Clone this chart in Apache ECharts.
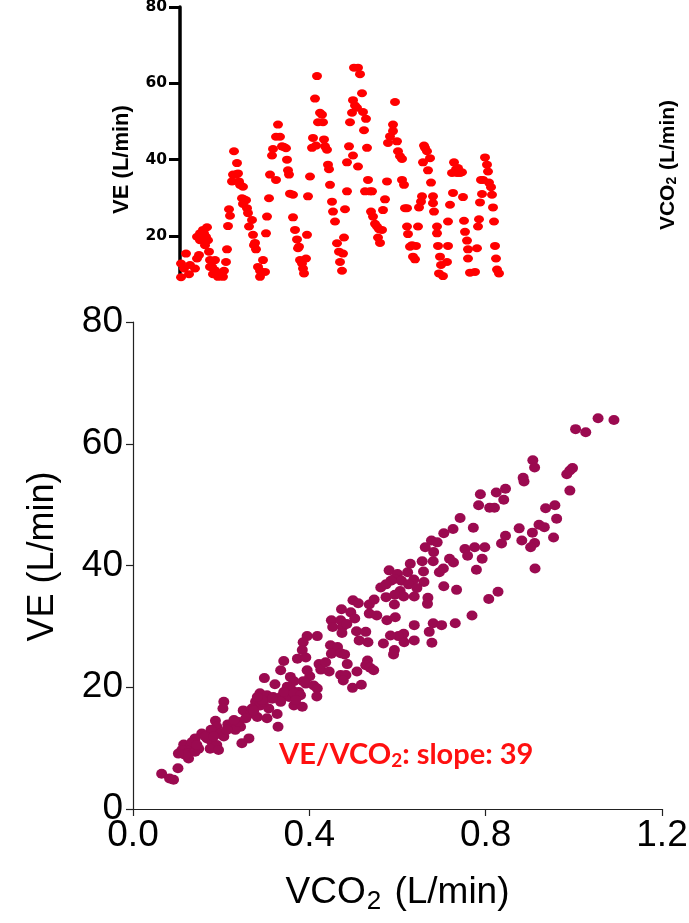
<!DOCTYPE html>
<html>
<head>
<meta charset="utf-8">
<script src="https://cdn.jsdelivr.net/npm/echarts@6.0.0/dist/echarts.min.js"></script>
<style>
  html, body { margin: 0; padding: 0; background: #fff; }
  #main { width: 689px; height: 923px; }
</style>
</head>
<body>
<div id="main"></div>
<script>
// top panel: VE over time (time, arbitrary units)
const timeT = [1,6,4,9,1,15,17,19,10,
  17,20,23,27,26,28,25,29,20,24,30,35,32,35,30,33,38,
  40,44,43,46,47,48,49,50,52,54,53,56,58,57,59,60,63,62,64,66,63,67,68,69,72,73,75,76,74,
  78,80,83,85,80,86,87,89,90,92,93,96,98,100,102,104,96,106,107,108,109,110,113,
  113,115,117,118,119,120,122,123,124,126,127,128,130,132,133,135,137,140,142,143,138,136,144,145,147,148,149,150,152,153,155,157,159,160,162,163,164,165,167,
  167,169,170,172,173,173,175,177,174,178,180,178,182,183,184,186,187,188,185,190,192,191,193,195,197,199,202,198,200,
  203,205,207,208,210,213,213,215,217,218,220,222,222,224,225,227,227,228,230,232,233,235,236,238,239,241,242,243,244,245,247,248,250,251,253,253,254,257,257,258,260,261,259,263,
  267,268,268,270,273,272,274,276,277,278,280,282,283,284,285,287,288,288,
  290,295,297,298,299,300,302,301,303,305,307,308,309,311,312,313,314,315,316,317,319];
const veTime = [12.8,15.4,11.5,10.0,9.2,11.5,14.1,15.0,12.4,
  19.8,20.7,21.6,22.3,19.8,18.9,17.6,15.9,18.9,20.7,13.7,13.7,11.9,11.0,11.9,10.0,9.3,
  10.2,10.9,9.3,13.2,16.5,22.6,27.0,25.3,34.3,42.2,36.1,36.1,36.4,39.1,34.3,33.4,32.9,29.9,29.6,29.4,28.4,27.3,26.0,22.5,24.2,20.3,18.2,16.5,17.6,
  11.9,10.9,13.7,10.6,9.3,20.7,25.1,29.9,36.1,41.1,42.8,46.0,49.2,46.0,43.5,43.3,34.7,43.0,40.0,37.2,36.1,31.1,30.8,
  24.9,21.6,19.1,16.8,17.2,13.7,12.8,11.5,10.2,14.1,20.3,30.4,35.6,43.1,45.7,56.0,61.9,52.3,51.8,49.8,49.8,43.7,45.3,43.5,42.6,38.7,37.5,33.4,29.0,26.4,23.8,18.1,15.9,13.2,10.9,15.4,19.6,27.0,31.7,
  39.3,43.5,49.8,52.3,41.1,55.6,54.2,53.6,64.1,64.1,62.4,38.2,57.4,52.5,47.7,50.7,43.1,34.7,31.7,31.7,31.7,26.4,25.1,23.2,22.5,21.8,21.6,19.6,18.2,
  26.8,29.6,34.3,44.4,46.1,47.5,49.2,55.1,44.8,42.2,40.9,40.2,34.7,33.4,27.3,27.3,22.5,20.5,17.2,17.6,14.6,13.9,17.4,22.5,27.5,29.0,30.4,39.3,43.7,43.1,42.2,37.2,40.4,34.0,30.4,28.6,26.4,22.5,20.7,17.4,14.6,12.4,10.2,9.5,
  13.2,17.4,23.8,28.2,31.3,36.5,39.3,37.5,36.5,37.8,36.5,36.7,30.2,24.0,21.1,18.8,16.5,14.1,
  10.4,10.6,16.8,22.5,24.4,28.8,31.0,34.7,34.7,40.6,38.7,36.9,34.0,32.8,30.8,27.5,23.8,17.4,14.1,11.2,10.2];

// bottom panel: VE vs VCO2
const vco2 = [1.055,1.091,1.004,1.027,0.907,0.911,0.997,0.991,0.984,0.885,0.887,0.991,0.788,0.824,0.845,0.841,0.784,0.809,0.820,0.936,
  0.957,0.961,0.742,0.726,0.772,0.876,0.921,0.933,0.906,0.845,0.836,0.882,0.911,0.902,0.954,0.705,0.677,0.690,0.663,0.682,
  0.753,0.775,0.798,0.759,0.792,0.718,0.727,0.656,0.681,0.704,0.695,0.779,0.912,0.629,0.581,0.600,0.623,0.659,0.660,0.593,
  0.585,0.609,0.637,0.562,0.574,0.625,0.644,0.705,0.734,0.606,0.574,0.594,0.614,0.638,0.669,0.668,0.828,0.807,0.499,0.511,
  0.536,0.547,0.593,0.473,0.494,0.503,0.536,0.553,0.576,0.595,0.450,0.471,0.453,0.475,0.485,0.474,0.507,0.528,0.638,0.681,
  0.700,0.731,0.769,0.672,0.614,0.602,0.584,0.615,0.638,0.678,0.568,0.593,0.591,0.513,0.533,0.395,0.418,0.386,0.384,0.448,
  0.464,0.450,0.471,0.480,0.373,0.392,0.342,0.335,0.422,0.426,0.445,0.486,0.532,0.528,0.538,0.546,0.508,0.471,0.483,0.477,
  0.498,0.518,0.298,0.357,0.401,0.386,0.392,0.410,0.418,0.417,0.322,0.365,0.350,0.361,0.376,0.288,0.304,0.318,0.335,0.354,
  0.335,0.365,0.384,0.278,0.289,0.308,0.327,0.329,0.206,0.204,0.250,0.267,0.282,0.304,0.244,0.225,0.215,0.232,0.187,0.190,
  0.177,0.198,0.206,0.263,0.247,0.156,0.141,0.168,0.179,0.190,0.175,0.194,0.115,0.130,0.111,0.123,0.141,0.149,0.126,0.118,
  0.103,0.065,0.083,0.092,0.102,0.240,0.256,0.270,0.296,0.316,0.342,0.365,0.380,0.369,0.395,0.437,0.134,0.145,0.164,0.183,
  0.213,0.229,0.274,0.293,0.282];
const veScatter = [64.2,63.9,62.4,61.9,57.3,56.1,56.0,55.6,55.0,54.4,53.8,52.3,51.7,52.0,52.6,50.8,49.9,49.5,49.5,49.4,
  49.9,47.7,47.8,46.0,46.2,46.1,46.7,46.3,45.4,44.9,43.6,44.1,43.7,43.0,44.6,45.3,44.1,43.8,43.0,42.2,
  42.7,43.0,43.0,41.6,41.1,41.1,40.5,40.7,40.7,39.5,38.9,39.3,39.5,40.3,39.2,38.6,38.9,39.0,37.3,37.8,
  37.5,37.5,37.7,36.4,36.9,36.9,36.3,36.6,36.0,35.8,34.8,35.2,34.9,34.9,34.7,33.7,35.7,34.5,34.3,33.8,
  33.6,34.4,33.6,32.8,32.3,31.3,32.1,31.8,31.0,31.5,31.0,31.0,29.9,29.9,30.4,28.9,29.2,29.1,30.2,30.5,
  30.2,30.5,31.8,29.1,28.8,28.4,28.5,27.4,27.7,27.3,27.2,26.1,25.4,27.7,27.4,28.4,28.4,27.4,26.1,26.9,
  26.6,25.5,25.6,25.4,24.7,24.9,24.3,22.8,23.8,22.9,22.6,23.8,24.4,23.6,23.2,22.8,22.6,22.0,22.0,21.1,
  19.9,20.4,21.5,21.7,21.8,21.0,20.6,20.3,19.8,18.5,20.5,21.0,20.1,19.5,19.2,19.0,18.7,18.4,18.4,18.4,
  17.6,17.0,16.8,17.6,17.0,16.5,15.6,13.5,17.6,16.5,16.2,15.7,15.1,14.9,13.5,14.0,13.9,13.0,14.5,13.5,
  13.0,12.4,11.9,11.6,10.8,12.4,11.6,11.6,11.0,10.5,9.9,9.7,10.6,10.2,9.7,9.1,9.4,9.9,8.3,8.9,
  9.1,5.8,5.0,4.8,6.7,14.3,14.9,16.5,17.6,18.1,19.2,19.0,18.7,17.9,22.8,24.1,11.0,10.5,11.9,11.9,
  13.0,14.6,16.2,17.9,18.4];

const topTicks = [20, 40, 60, 80];

const chart = echarts.init(document.getElementById('main'), null, { renderer: 'canvas' });

const option = {
  backgroundColor: '#fff',
  animation: false,
  grid: [
    { left: 180, top: 7, width: 330, height: 271, outerBoundsMode: 'none' },
    { left: 133, top: 322, right: 27, bottom: 114, outerBoundsMode: 'none' }
  ],
  xAxis: [
    { gridIndex: 0, type: 'value', min: 0, max: 330, show: false },
    {
      gridIndex: 1, type: 'value', min: 0, max: 1.2, interval: 0.4,
      name: '{a|VCO}{s|2}{a| (L/min)}',
      nameLocation: 'middle', nameGap: 62,
      nameTextStyle: {
        rich: {
          a: { fontFamily: 'Liberation Sans', fontSize: 37, color: '#000' },
          s: { fontFamily: 'Liberation Sans', fontSize: 26, color: '#000', padding: [18, 3, 0, 1] }
        }
      },
      axisLine: { lineStyle: { color: '#222', width: 1.2 } },
      axisTick: { length: 7, lineStyle: { color: '#222', width: 1.2 } },
      axisLabel: {
        margin: 8, color: '#000', fontFamily: 'Liberation Sans', fontSize: 37,
        formatter: v => v.toFixed(1)
      },
      splitLine: { show: false }
    }
  ],
  yAxis: [
    {
      gridIndex: 0, type: 'value', min: 9, max: 80,
      name: 'VE (L/min)', nameLocation: 'middle', nameGap: 47, nameRotate: 90,
      nameTextStyle: {
        fontFamily: 'Liberation Sans', fontWeight: 'bold', fontSize: 22, color: '#000',
        padding: [0, 34, 0, 0]
      },
      axisLine: { lineStyle: { color: '#000', width: 3.5 } },
      axisTick: { customValues: topTicks, length: 11, lineStyle: { color: '#000', width: 3 } },
      axisLabel: {
        customValues: topTicks, margin: 13, color: '#000',
        fontFamily: 'DejaVu Sans', fontWeight: 'bold', fontSize: 15.5
      },
      splitLine: { show: false }
    },
    {
      gridIndex: 1, type: 'value', min: 0, max: 80, interval: 20,
      name: 'VE (L/min)', nameLocation: 'middle', nameGap: 72, nameRotate: 90,
      nameTextStyle: {
        fontFamily: 'Liberation Sans', fontSize: 36, color: '#000',
        padding: [0, 0, 0, 18]
      },
      axisLine: { show: true, lineStyle: { color: '#222', width: 1.2 } },
      axisTick: { show: true, length: 7, lineStyle: { color: '#222', width: 1.2 } },
      axisLabel: { margin: 10, color: '#000', fontFamily: 'Liberation Sans', fontSize: 37 },
      splitLine: { show: false }
    }
  ],
  series: [
    {
      type: 'scatter', xAxisIndex: 0, yAxisIndex: 0,
      data: timeT.map((t, i) => [t, veTime[i]]),
      symbolSize: [10, 8],
      itemStyle: { color: '#ff0000', opacity: 1 },
      clip: true
    },
    {
      type: 'scatter', xAxisIndex: 1, yAxisIndex: 1,
      data: vco2.map((x, i) => [x, veScatter[i]]),
      symbolSize: [11, 10],
      itemStyle: { color: '#9b0a50', opacity: 1 }
    }
  ],
  graphic: [
    {
      type: 'text', x: 279, y: 740,
      style: {
        text: '{a|VE/VCO}{s|2}{a|: slope: 39}',
        rich: {
          a: { fontFamily: 'Lato', fontWeight: 'bold', fontSize: 29, fill: '#ff1010' },
          s: { fontFamily: 'Lato', fontWeight: 'bold', fontSize: 19, fill: '#ff1010', padding: [11, 0, 0, 0] }
        }
      }
    },
    {
      type: 'text', x: 668, y: 165, rotation: Math.PI / 2,
      style: {
        text: '{a|VCO}{s|2}{a| (L/min)}',
        align: 'center', verticalAlign: 'middle',
        rich: {
          a: { fontFamily: 'Liberation Sans', fontWeight: 'bold', fontSize: 21, fill: '#000' },
          s: { fontFamily: 'Liberation Sans', fontWeight: 'bold', fontSize: 14, fill: '#000', padding: [9, 1, 0, 0] }
        }
      }
    }
  ]
};

chart.setOption(option);
</script>
</body>
</html>
